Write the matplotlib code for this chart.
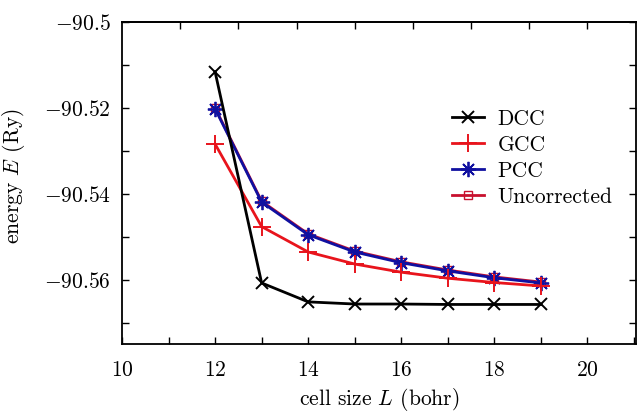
import matplotlib
matplotlib.use("Agg")
import matplotlib.pyplot as plt
from matplotlib.ticker import FixedLocator, MultipleLocator, FuncFormatter

plt.rcParams['font.family'] = ['cmr10', 'DejaVu Serif']
plt.rcParams['mathtext.fontset'] = 'cm'
plt.rcParams['axes.unicode_minus'] = False

L = [12, 13, 14, 15, 16, 17, 18, 19]
dcc = [-90.5116, -90.5607, -90.5651, -90.5656, -90.5656, -90.5657, -90.5657, -90.5657]
gcc = [-90.5284, -90.5476, -90.5535, -90.5563, -90.5582, -90.5596, -90.5606, -90.5614]
pcc = [-90.5202, -90.5419, -90.5495, -90.5535, -90.5560, -90.5579, -90.5595, -90.5607]
unc = [-90.5200, -90.5417, -90.5493, -90.5533, -90.5558, -90.5577, -90.5593, -90.5605]

x_major = [10, 12, 14, 16, 18, 20]
y_major = [-90.56, -90.54, -90.52, -90.5]
y_labels = ['$-90.56$', '$-90.54$', '$-90.52$', '$-90.5$']
top_ticks = [11.25, 12.5, 13.75, 15.0, 16.25, 17.5, 18.75, 20.0]

fs = 15.5

fig = plt.figure(figsize=(6.37, 4.13), dpi=100)
ax = fig.add_axes([0.1915, 0.167, 0.8075, 0.780])

lw = 2.0
l_unc, = ax.plot(L, unc, color='#c8102e', lw=lw, marker='s', ms=6, mfc='none', mew=1.0, zorder=2, label='Uncorrected')
l_pcc, = ax.plot(L, pcc, color='#1010a0', lw=lw, marker=(8, 2, 0), ms=11, mew=1.3, zorder=3, label='PCC')
l_gcc, = ax.plot(L, gcc, color='#e8141c', lw=lw, marker='+', ms=13, mew=1.4, zorder=4, label='GCC')
l_dcc, = ax.plot(L, dcc, color='black', lw=lw, marker='x', ms=8, mew=1.4, zorder=5, label='DCC')

ax.set_xlim(10, 21.05)
ax.set_ylim(-90.5749, -90.5)

ax.xaxis.set_major_locator(FixedLocator(x_major))
ax.xaxis.set_minor_locator(MultipleLocator(1))
ax.xaxis.set_major_formatter(FuncFormatter(lambda v, p: '$%d$' % round(v)))
ax.yaxis.set_major_locator(FixedLocator(y_major))
ax.set_yticklabels(y_labels)
ax.yaxis.set_minor_locator(MultipleLocator(0.01))

ax.tick_params(which='both', direction='in', length=5, width=1.0, top=False, right=True, labelsize=fs)
ax.tick_params(axis='x', which='major', pad=12)
ax.tick_params(axis='y', which='major', pad=8)

# top axis ticks (different spacing, unlabeled)
top = ax.secondary_xaxis('top')
top.set_xticks(top_ticks)
top.tick_params(direction='in', length=5, width=1.0, labeltop=False)
top.spines['top'].set_linewidth(1.3)

for s in ax.spines.values():
    s.set_linewidth(1.3)

ax.set_xlabel('cell size $L$ (bohr)', fontsize=fs, labelpad=4)
ax.set_ylabel('energy $E$ (Ry)', fontsize=fs)
ax.yaxis.set_label_coords(-0.185, 0.52)

leg = ax.legend(handles=[l_dcc, l_gcc, l_pcc, l_unc], loc='upper left',
                bbox_to_anchor=(0.625, 0.755), frameon=False, fontsize=fs,
                handlelength=1.5, handletextpad=0.6, labelspacing=0.3,
                borderaxespad=0)

fig.savefig('out.png', dpi=100)
